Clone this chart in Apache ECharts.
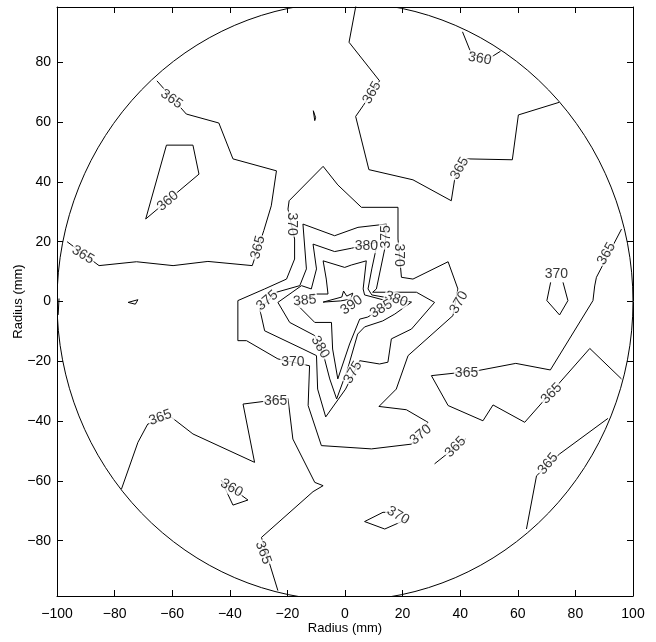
<!DOCTYPE html>
<html><head><meta charset="utf-8">
<script src="https://cdn.jsdelivr.net/npm/echarts@6/dist/echarts.min.js"></script>
<style>html,body{margin:0;padding:0;background:#fff}#c{width:656px;height:642px}</style>
</head><body><div id="c"></div>
<script>
// ---- axes ----
const xTicks = [-100,-80,-60,-40,-20,0,20,40,60,80,100];
const yTicks = [-80,-60,-40,-20,0,20,40,60,80];
const xRange = [-100, 100];
const yRange = [-98.5, 98.5];
const circleRadius = 100;

// ---- contour polylines (mm) ----
const c365_upperLeft = [[-96.5,20.0],[-85.4,12.0],[-72.4,13.3],[-59.7,12.0],[-47.6,13.4],[-32.2,12.0],[-28.2,23.7],[-25.6,32.0],[-23.8,43.7],[-38.9,47.7],[-43.8,59.7],[-55.1,62.7],[-65.3,73.8]];
const c360_upperLeft = [[-62.0,52.3],[-52.8,52.3],[-50.7,42.6],[-69.2,27.6],[-62.0,52.3]];
const c365_blobTop = [[-11.0,63.8],[-10.5,60.5],[-10.2,61.5],[-11.0,63.8]];
const c365_blobLeft = [[-75.3,-0.3],[-71.9,0.6],[-72.8,-0.9],[-75.3,-0.3]];
const c365_edge = [[-99.3,1.0],[-99.6,-4.5]];
const c365_topCenter = [[3.9,99.5],[1.4,86.7],[12.0,73.8],[6.3,65.5],[3.7,61.9],[8.3,44.1],[23.6,40.7],[36.9,33.7],[38.1,41.0],[42.2,47.7],[58.1,47.4],[60.2,62.4],[74.3,66.6]];
const c360_topRight = [[40.8,90.2],[43.9,82.8],[49.7,81.1],[54.0,83.7]];
const c365_right = [[96.0,24.2],[87.3,8.1],[86.7,5.2],[86.1,0.3],[71.3,-22.9],[59.3,-20.7],[46.2,-23.1],[30.0,-24.8],[35.8,-34.8],[47.9,-39.9],[51.4,-34.6],[62.4,-40.4],[85.0,-15.7],[96.0,-25.9]];
const c370_smallRight = [[75.7,6.4],[77.4,0.3],[74.5,-4.5],[70.1,0.3],[71.4,6.4]];
const c365_lowerRight = [[63.0,-76.1],[66.5,-58.3],[74.5,-51.0],[91.3,-39.1]];
const c365_short = [[31.1,-54.3],[41.9,-46.0]];
const c370_smallLow = [[16.0,-70.6],[13.2,-70.5],[6.8,-73.6],[13.8,-76.1],[21.8,-72.7]];
const c365_lowerLeft = [[-77.6,-62.7],[-71.9,-47.1],[-68.5,-41.0],[-60.3,-38.7],[-52.8,-44.3],[-31.4,-53.8],[-35.4,-34.3],[-19.8,-32.4],[-18.1,-46.0],[-10.5,-60.5],[-7.6,-61.6],[-11.1,-63.6],[-29.0,-78.9],[-23.3,-96.7]];
const c360_lowerLeft = [[-42.9,-59.9],[-33.7,-66.4],[-38.9,-68.1],[-42.9,-59.9]];
const c370_center = [[-7.6,45.2],[-2.5,39.0],[5.7,31.5],[18.4,31.5],[18.4,20.9],[19.6,8.1],[23.6,7.5],[35.8,13.3],[39.2,4.2],[37.5,-4.7],[21.9,-18.1],[17.8,-29.3],[11.8,-35.1],[21.3,-36.2],[28.8,-40.4],[23.1,-47.7],[9.2,-49.3],[-8.2,-48.2],[-12.8,-34.8],[-12.3,-21.5],[-23.3,-19.2],[-34.2,-13.1],[-37.2,-13.1],[-37.2,0.3],[-27.9,4.2],[-20.3,7.5],[-17.5,14.2],[-17.5,20.9],[-19.8,30.9],[-19.4,33.7],[-7.6,45.2]];
const c375_center = [[-14.6,25.9],[-3.6,22.0],[4.5,24.8],[14.4,25.9],[13.8,17.6],[10.9,4.2],[9.6,3.1],[24.8,3.1],[31.1,-0.3],[23.1,-9.2],[16.1,-12.5],[14.9,-20.3],[12.0,-20.9],[5.1,-19.8],[0.2,-29.3],[-6.7,-38.6],[-9.5,-29.3],[-9.9,-18.1],[-14.6,-15.9],[-27.9,-9.8],[-29.6,-2.5],[-23.8,3.1],[-15.7,5.3],[-13.4,10.9],[-14.6,25.9]];
const c380_center = [[-11.1,19.2],[-3.6,16.7],[2.2,17.8],[11.3,19.9],[9.3,10.9],[8.0,4.2],[9.3,2.2],[23.1,-0.2],[17.3,-4.2],[13.1,-6.5],[6.8,-8.5],[4.4,-10.9],[0.9,-22.6],[-2.9,-32.6],[-5.3,-25.9],[-7.1,-19.2],[-10.5,-11.4],[-19.2,-7.0],[-23.3,-0.3],[-15.1,5.3],[-11.7,4.2],[-9.9,10.9],[-11.1,19.2]];
const c385_center = [[-7.6,13.6],[-0.1,11.4],[2.2,12.2],[7.4,13.6],[6.3,4.2],[6.8,2.2],[16.2,-0.2],[7.9,-5.2],[5.1,-5.9],[1.6,-14.2],[-2.5,-25.9],[-4.3,-15.9],[-4.7,-7.0],[-10.5,-7.0],[-16.9,-0.8],[-9.9,2.5],[-5.9,2.5],[-6.5,7.5],[-7.6,13.6]];
const c390_center = [[-7.6,-0.2],[-1.1,1.5],[-0.5,3.5],[0.6,1.8],[2.7,2.8],[2.0,0.8],[-1.5,0.2],[-7.6,-0.2]];

// ---- contour labels: [x, y, level, rotation] ----
const contourLabels = [
  [-91.0,15.6,365,-30],[-30.2,18.1,365,75],[-60.2,67.7,365,-35],[-61.5,33.6,360,40],
  [9.4,69.8,365,60],[39.8,44.5,365,60],[46.8,81.2,360,-10],
  [90.8,16.0,365,60],[73.4,9.2,370,0],[42.2,-24.0,365,0],[71.7,-30.8,365,45],
  [38.4,-48.7,365,45],[70.5,-54.3,365,50],[18.4,-71.6,370,-30],
  [-64.1,-38.8,365,20],[-24.1,-33.2,365,0],[-28.4,-84.0,365,-70],[-39.4,-62.4,360,-30],
  [18.8,15.5,370,-90],[-18.6,25.9,370,-90],[39.6,-0.3,370,60],[26.3,-44.6,370,40],[-18.1,-20.3,370,0],
  [14.2,21.6,375,90],[-27.0,0.3,375,40],[2.8,-23.7,375,60],
  [7.4,18.5,380,0],[17.8,0.8,380,-20],[-8.6,-15.3,380,-60],
  [-14.0,0.3,385,5],[12.6,-2.5,385,30],[2.3,-1.2,390,35]
];

const contourLines = [c365_upperLeft,c360_upperLeft,c365_blobTop,c365_blobLeft,c365_edge,c365_topCenter,
  c360_topRight,c365_right,c370_smallRight,c365_lowerRight,c365_short,c370_smallLow,c365_lowerLeft,
  c360_lowerLeft,c370_center,c375_center,c380_center,c385_center,c390_center];

const FONT = 'Liberation Sans, Arial, Helvetica, sans-serif';
const fmt = v => String(v).replace('-', '\u2212');

const series = contourLines.map(pts => ({
  type: 'line', data: pts, symbol: 'none', showSymbol: false, clip: true, silent: true,
  lineStyle: {color: '#000', width: 1}, animation: false, z: 2
}));

series.push({
  type: 'custom', clip: true, silent: true, animation: false, z: 2,
  data: [[0, 0, circleRadius]],
  renderItem: (params, api) => {
    const c = api.coord([api.value(0), api.value(1)]);
    const s = api.size([api.value(2), api.value(2)]);
    const rx = s[0], ry = s[1];
    const d = `M ${c[0]-rx} ${c[1]} A ${rx} ${ry} 0 1 0 ${c[0]+rx} ${c[1]} A ${rx} ${ry} 0 1 0 ${c[0]-rx} ${c[1]} Z`;
    return {type: 'path', shape: {pathData: d}, style: {fill: 'none', stroke: '#000', lineWidth: 1}};
  }
});

series.push({
  type: 'scatter', symbolSize: 1, itemStyle: {color: 'rgba(0,0,0,0)'}, silent: true, animation: false, z: 5,
  data: contourLabels.map(l => ({value: [l[0], l[1]], level: l[2], label: {rotate: l[3]}})),
  label: {
    show: true, position: 'inside', color: '#000', fontFamily: FONT, fontSize: 14,
    backgroundColor: '#fff', padding: [0, 1],
    formatter: p => String(p.data.level)
  }
});

const axisCommon = {
  axisLine: {show: true, onZero: false, lineStyle: {color: '#000', width: 1}},
  splitLine: {show: false}
};

const option = {
  backgroundColor: '#fff',
  animation: false,
  grid: {left: 57, right: 23, top: 7, bottom: 46, containLabel: false, outerBoundsMode: 'none'},
  xAxis: [
    Object.assign({}, axisCommon, {
      type: 'value', min: xRange[0], max: xRange[1], interval: 20, position: 'bottom',
      axisTick: {show: true, inside: true, length: 6, lineStyle: {color: '#000'}},
      axisLabel: {color: '#000', fontFamily: FONT, fontSize: 14, margin: 11, formatter: fmt},
      name: 'Radius (mm)', nameLocation: 'middle', nameGap: 26, nameMoveOverlap: false,
      nameTextStyle: {color: '#000', fontFamily: FONT, fontSize: 13}
    }),
    Object.assign({}, axisCommon, {
      type: 'value', min: xRange[0], max: xRange[1], interval: 20, position: 'top',
      axisTick: {show: true, inside: true, length: 6, lineStyle: {color: '#000'}},
      axisLabel: {show: false}
    })
  ],
  yAxis: [
    Object.assign({}, axisCommon, {
      type: 'value', min: yRange[0], max: yRange[1], position: 'left',
      axisTick: {show: true, inside: true, length: 6, customValues: yTicks, lineStyle: {color: '#000'}},
      axisLabel: {color: '#000', fontFamily: FONT, fontSize: 14, margin: 6, customValues: yTicks, formatter: fmt},
      name: 'Radius (mm)', nameLocation: 'middle', nameGap: 32, nameRotate: 90, nameMoveOverlap: false,
      nameTextStyle: {color: '#000', fontFamily: FONT, fontSize: 13}
    }),
    Object.assign({}, axisCommon, {
      type: 'value', min: yRange[0], max: yRange[1], position: 'right',
      axisTick: {show: true, inside: true, length: 6, customValues: yTicks, lineStyle: {color: '#000'}},
      axisLabel: {show: false, customValues: yTicks}
    })
  ],
  series: series
};

const chart = echarts.init(document.getElementById('c'), null, {renderer: 'canvas'});
chart.setOption(option);
</script></body></html>
